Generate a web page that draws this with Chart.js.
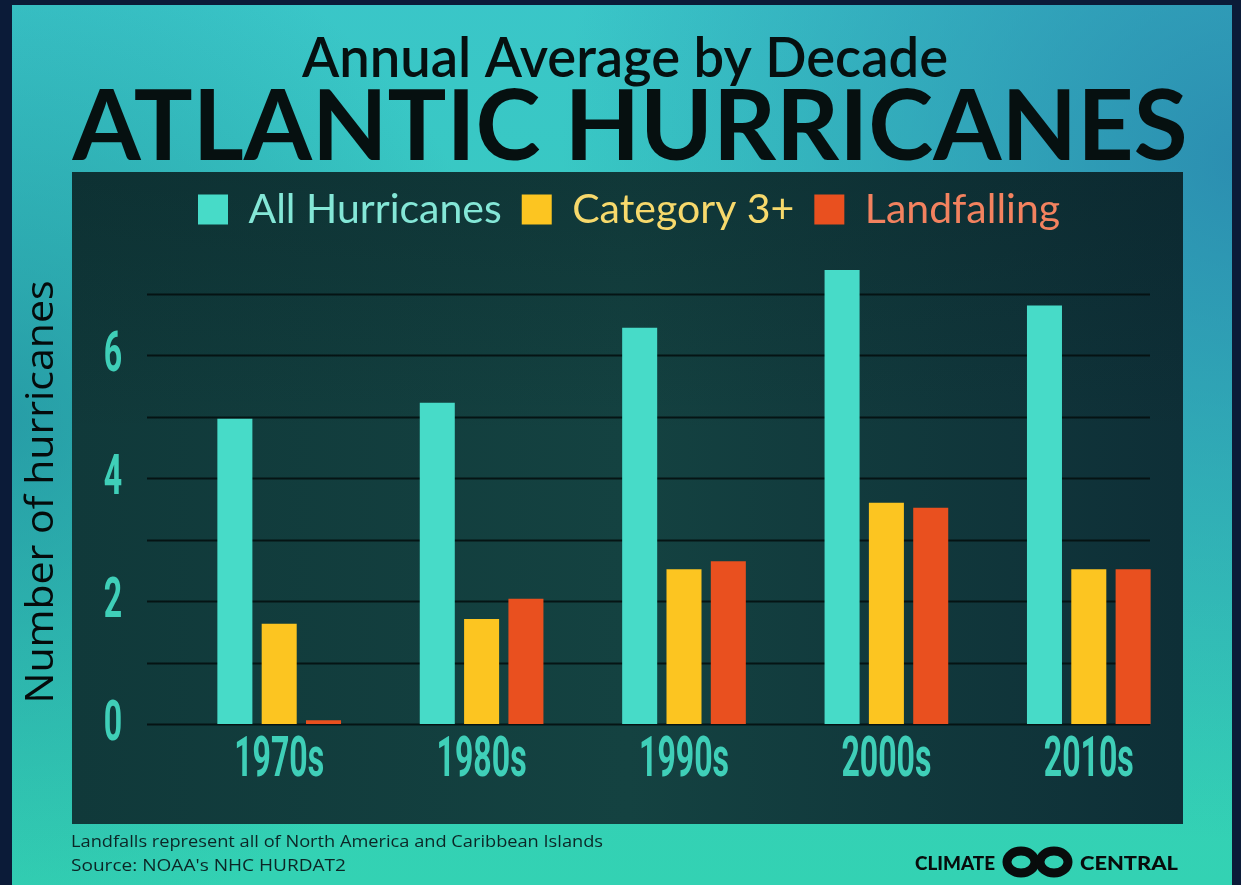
<!DOCTYPE html>
<html>
<head>
<meta charset="utf-8">
<script src="https://cdn.jsdelivr.net/npm/chart.js@4/dist/chart.umd.min.js"></script>
<style>
  html, body { margin: 0; padding: 0; background: #0b1b38; }
  canvas { display: block; }
</style>
</head>
<body>
<canvas id="hurricanes" width="1241" height="885"></canvas>
<script>
// annual averages per decade
const decades = ["1970s", "1980s", "1990s", "2000s", "2010s"];
const allHurricanes = [4.97, 5.23, 6.45, 7.39, 6.81];
const category3Plus = [1.63, 1.71, 2.52, 3.6, 2.52];
const landfalling = [0.06, 2.04, 2.65, 3.52, 2.52];
const seriesNames = ["All Hurricanes", "Category 3+", "Landfalling"];
const yTicks = [0, 2, 4, 6];
const yGridLines = [0, 1, 2, 3, 4, 5, 6, 7];

const barColors = ["#47dbc8", "#fcc521", "#e9501f"];
const legendTextColors = ["#84e7d7", "#f7d96c", "#f3825f"];
const tickColor = "#3fcfb8";
const inkColor = "#061010";

// draws text squeezed horizontally, sx = horizontal scale
function squeezed(ctx, text, x, y, sx, align) {
  ctx.save();
  ctx.translate(x, y);
  ctx.scale(sx, 1);
  ctx.textAlign = align || "left";
  ctx.fillText(text, 0, 0);
  ctx.restore();
}

// draws text scaled to a given width
function fitted(ctx, text, x, y, font, width, align) {
  ctx.font = font;
  const sx = width / ctx.measureText(text).width;
  squeezed(ctx, text, x, y, sx, align);
}

const backdrop = {
  id: "backdrop",
  beforeDraw(chart) {
    const ctx = chart.ctx;
    const W = chart.width, H = chart.height;
    ctx.save();
    ctx.fillStyle = "#0b1b38";
    ctx.fillRect(0, 0, W, H);

    ctx.beginPath();
    ctx.rect(12, 5, W - 21, H - 5);
    ctx.clip();
    let g = ctx.createLinearGradient(0, 0, 0, H);
    g.addColorStop(0, "#3ac6c8");
    g.addColorStop(1, "#33d2b3");
    ctx.fillStyle = g;
    ctx.fillRect(0, 0, W, H);
    let r = ctx.createRadialGradient(W, 160, 0, W, 160, 680);
    r.addColorStop(0, "rgba(40,128,172,0.8)");
    r.addColorStop(1, "rgba(40,128,172,0)");
    ctx.fillStyle = r;
    ctx.fillRect(0, 0, W, H);
    r = ctx.createRadialGradient(0, 420, 0, 0, 420, 520);
    r.addColorStop(0, "rgba(28,125,150,0.6)");
    r.addColorStop(1, "rgba(28,125,150,0)");
    ctx.fillStyle = r;
    ctx.fillRect(0, 0, W, H);
    ctx.restore();

    // dark panel behind the plot
    ctx.save();
    g = ctx.createLinearGradient(72, 0, 1183, 0);
    g.addColorStop(0, "#10393a");
    g.addColorStop(0.5, "#144241");
    g.addColorStop(1, "#0e2f37");
    ctx.fillStyle = g;
    ctx.fillRect(72, 172, 1111, 652);
    g = ctx.createLinearGradient(0, 172, 0, 824);
    g.addColorStop(0, "rgba(5,25,30,0.25)");
    g.addColorStop(0.4, "rgba(5,25,30,0)");
    ctx.fillStyle = g;
    ctx.fillRect(72, 172, 1111, 652);

    // headings
    ctx.fillStyle = inkColor;
    ctx.textBaseline = "alphabetic";
    fitted(ctx, "Annual Average by Decade", 625, 77, "600 55px Lato", 646, "center");
    fitted(ctx, "ATLANTIC HURRICANES", 630, 160, "bold 98px Lato", 1115, "center");

    // y axis title
    ctx.save();
    ctx.translate(53, 492);
    ctx.rotate(-Math.PI / 2);
    ctx.fillStyle = "#050b0b";
    fitted(ctx, "Number of hurricanes", 0, 0, "38px 'Open Sans'", 423, "center");
    ctx.restore();

    // notes
    ctx.fillStyle = "#0c2626";
    fitted(ctx, "Landfalls represent all of North America and Caribbean Islands", 71, 847, "16px 'Open Sans'", 532, "left");
    fitted(ctx, "Source: NOAA's NHC HURDAT2", 71, 871, "16px 'Open Sans'", 275, "left");

    // logo
    ctx.fillStyle = "#080c0c";
    fitted(ctx, "CLIMATE", 915, 870, "900 19px Lato", 80, "left");
    fitted(ctx, "CENTRAL", 1080, 870, "900 19px Lato", 98, "left");
    ctx.strokeStyle = "#080c0c";
    ctx.lineWidth = 9;
    [1021, 1054].forEach(function (cx) {
      ctx.beginPath();
      ctx.ellipse(cx, 862, 14, 11, 0, 0, Math.PI * 2);
      ctx.stroke();
    });
    ctx.restore();
  },
  beforeDatasetsDraw(chart) {
    const ctx = chart.ctx;
    const x = chart.scales.x, y = chart.scales.y;
    ctx.save();
    ctx.strokeStyle = "rgba(4,16,16,0.9)";
    ctx.lineWidth = 2;
    yGridLines.forEach(function (v) {
      const py = Math.round(y.getPixelForValue(v)) + 0.5;
      ctx.beginPath();
      ctx.moveTo(147, py);
      ctx.lineTo(1150, py);
      ctx.stroke();
    });

    // condensed tick labels
    ctx.fillStyle = tickColor;
    ctx.font = "bold 55px Roboto";
    const sx = 90 / ctx.measureText("1970s").width;
    ctx.textBaseline = "middle";
    yTicks.forEach(function (v) {
      squeezed(ctx, String(v), 113, y.getPixelForValue(v) + 2, sx, "center");
    });
    decades.forEach(function (d, i) {
      squeezed(ctx, d, x.getPixelForValue(i), 762, sx, "center");
    });
    ctx.restore();
  }
};

const chartData = {
  labels: decades,
  datasets: [allHurricanes, category3Plus, landfalling].map(function (vals, i) {
    return {
      label: seriesNames[i],
      data: vals,
      backgroundColor: barColors[i],
      borderWidth: 0,
      categoryPercentage: 0.657,
      barPercentage: 0.79
    };
  })
};

new Chart(document.getElementById("hurricanes"), {
  type: "bar",
  data: chartData,
  plugins: [backdrop],
  options: {
    responsive: false,
    animation: false,
    layout: { padding: { top: 169, left: 178, right: 51, bottom: 161 } },
    scales: {
      x: { display: false },
      y: { display: false, min: 0, max: 8 }
    },
    plugins: {
      tooltip: { enabled: false },
      legend: {
        position: "top",
        align: "start",
        maxHeight: 63.5,
        labels: {
          boxWidth: 30,
          boxHeight: 30,
          padding: 20,
          font: { family: "Lato", size: 41 },
          generateLabels: function (chart) {
            return chart.data.datasets.map(function (ds, i) {
              return {
                text: ds.label,
                fillStyle: barColors[i],
                strokeStyle: barColors[i],
                lineWidth: 0,
                fontColor: legendTextColors[i],
                datasetIndex: i
              };
            });
          }
        }
      }
    }
  }
});
</script>
</body>
</html>
